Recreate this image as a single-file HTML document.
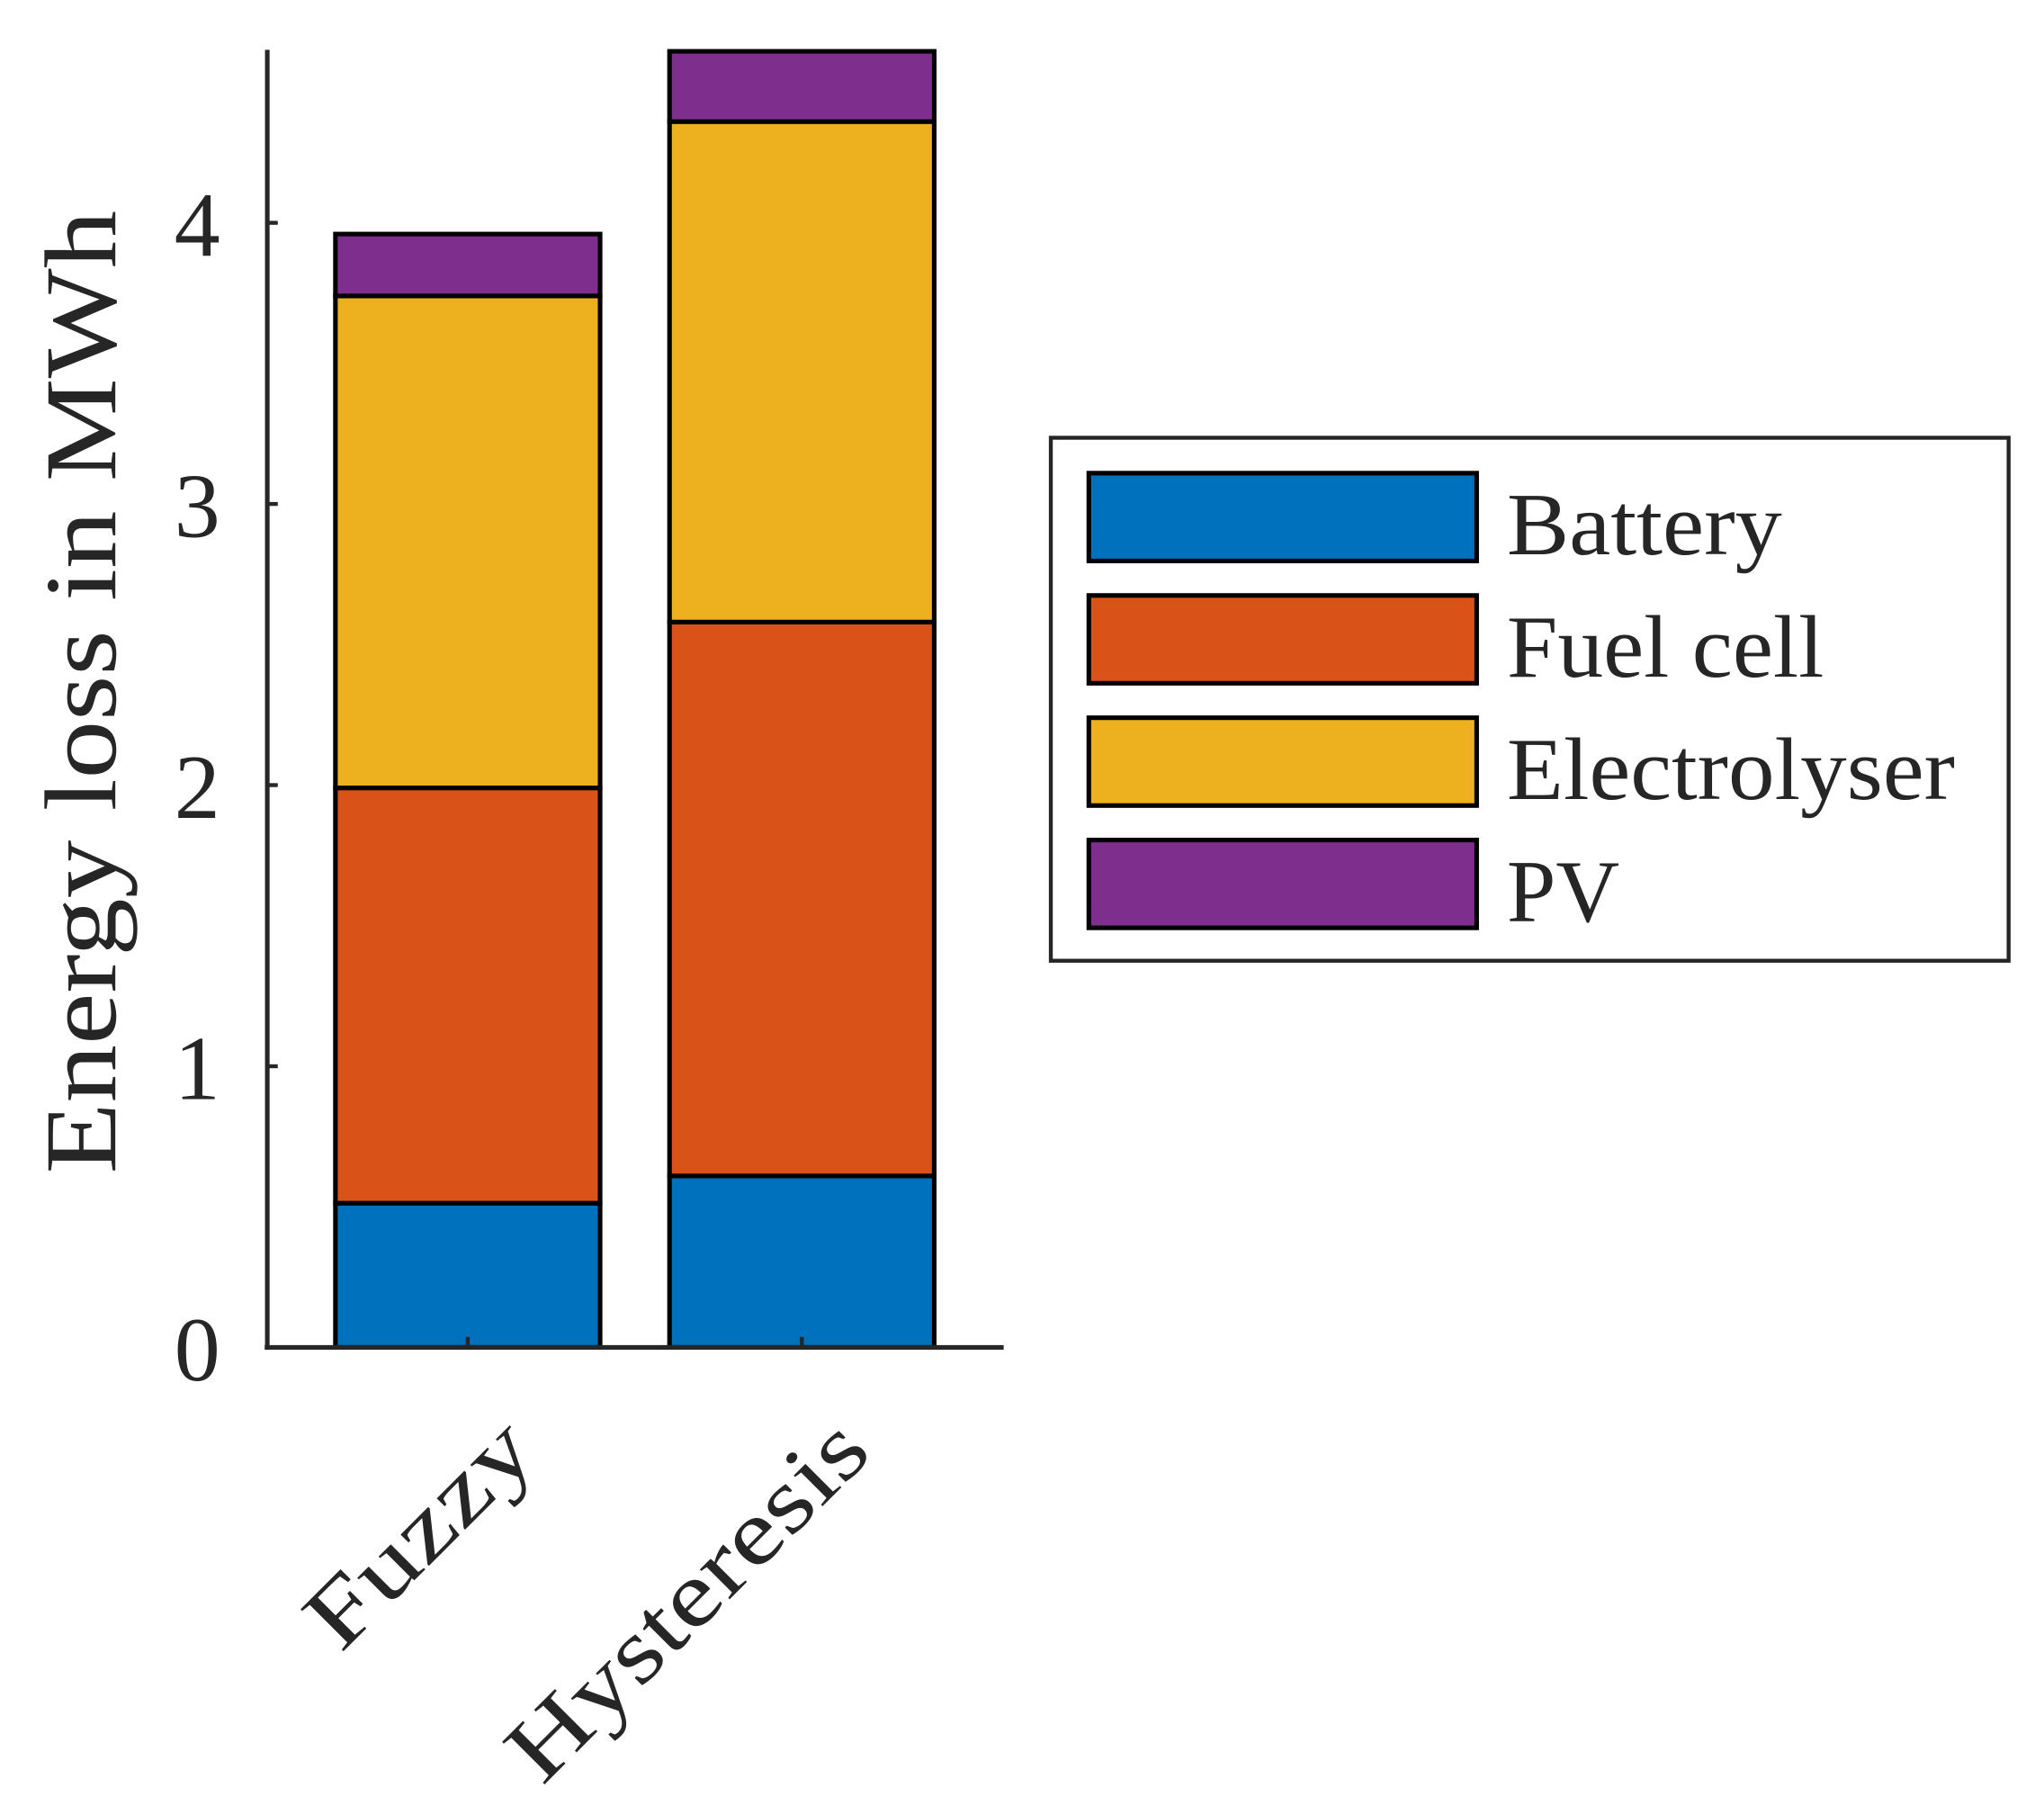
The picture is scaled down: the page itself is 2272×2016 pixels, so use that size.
<!DOCTYPE html>
<html><head><meta charset="utf-8"><style>
html,body{margin:0;padding:0;background:#fff}
svg{display:block}
text{font-family:"Liberation Serif",serif;fill:#262626}
</style></head><body>
<svg id="chart" width="2272" height="2016" viewBox="0 0 1560 1384" preserveAspectRatio="none" xmlns="http://www.w3.org/2000/svg">
<g id="bars"></g>
<g id="axes"></g>
<g id="legend"></g>
</svg>
<script>
const categories = ["Fuzzy", "Hysteresis"];
const seriesNames = ["Battery", "Fuel cell", "Electrolyser", "PV"];
const battery = [0.513, 0.61];
const fuelCell = [1.477, 1.97];
const electrolyser = [1.75, 1.78];
const pv = [0.22, 0.25];
const yTicks = [0, 1, 2, 3, 4];
const colors = ["#0072BD", "#D95319", "#EDB120", "#7E2F8E"];
const series = [battery, fuelCell, electrolyser, pv];

const NS = "http://www.w3.org/2000/svg";
const x0 = 204, x1 = 766, yBase = 1028, pxPerUnit = 214.5, yTop = 38;
const barW = 202, barCenters0 = 357, barStep = 255;
const catLabelLen = [215, 358];
const legendLen = [210, 242, 342, 86];
function yScale(v){ return yBase - v * pxPerUnit; }
function xScale(i){ return barCenters0 + i * barStep; }
function mk(tag, attrs, parent){
  const e = document.createElementNS(NS, tag);
  for (const k in attrs) e.setAttribute(k, attrs[k]);
  parent.appendChild(e); return e;
}
const gb = document.getElementById("bars");
categories.forEach((c, i) => {
  let cum = 0;
  series.forEach((s, j) => {
    const v = s[i];
    const yT = yScale(cum + v), yB = yScale(cum);
    const r = mk("rect", {x: xScale(i) - barW/2, y: yT, width: barW, height: yB - yT, fill: colors[j], stroke: "#000", "stroke-width": 3.5}, gb);
    
    
    cum += v;
  });
});
const ga = document.getElementById("axes");
const ya = mk("line", {x1: x0, y1: yTop, x2: x0, y2: yBase, stroke: "#262626", "stroke-width": 3.5}, ga);


const xa = mk("line", {x1: x0 - 2, y1: yBase, x2: x1, y2: yBase, stroke: "#262626", "stroke-width": 3.5}, ga);


yTicks.forEach(t => {
  const y = yScale(t);
  const tk = mk("line", {x1: x0, y1: y, x2: x0 + 8, y2: y, stroke: "#262626", "stroke-width": 3}, ga);
  
  
  const tl = mk("text", {x: 168, y: y + 25, "text-anchor": "end", "font-size": 70}, ga);
  tl.textContent = t;
  
  
});
categories.forEach((c, i) => {
  const x = xScale(i);
  const tk = mk("line", {x1: x, y1: yBase, x2: x, y2: yBase - 8, stroke: "#262626", "stroke-width": 3}, ga);
  
  
  const ax = x + 55, ay = 1110;
  const tl = mk("text", {x: ax, y: ay, "text-anchor": "end", "font-size": 70, textLength: catLabelLen[i], lengthAdjust: "spacingAndGlyphs", transform: `rotate(-45 ${ax} ${ay})`}, ga);
  tl.textContent = c;
  
  
});
const yl = mk("text", {x: 88, y: 528, "text-anchor": "middle", "font-size": 78, textLength: 735, lengthAdjust: "spacingAndGlyphs", transform: "rotate(-90 88 528)"}, ga);
yl.textContent = "Energy loss in MWh";



const gl = document.getElementById("legend");
const lb = mk("rect", {x: 802, y: 334, width: 731, height: 399, fill: "#fff", stroke: "#262626", "stroke-width": 3}, gl);


seriesNames.forEach((n, j) => {
  const y = 361 + j * 93.3;
  const sw = mk("rect", {x: 831, y: y, width: 296, height: 67, fill: colors[j], stroke: "#000", "stroke-width": 3.5}, gl);
  
  
  const t = mk("text", {x: 1150, y: y + 62, "font-size": 68, fill: "#000", textLength: legendLen[j], lengthAdjust: "spacingAndGlyphs"}, gl);
  t.textContent = n;
  
  
});
</script>
</body></html>
